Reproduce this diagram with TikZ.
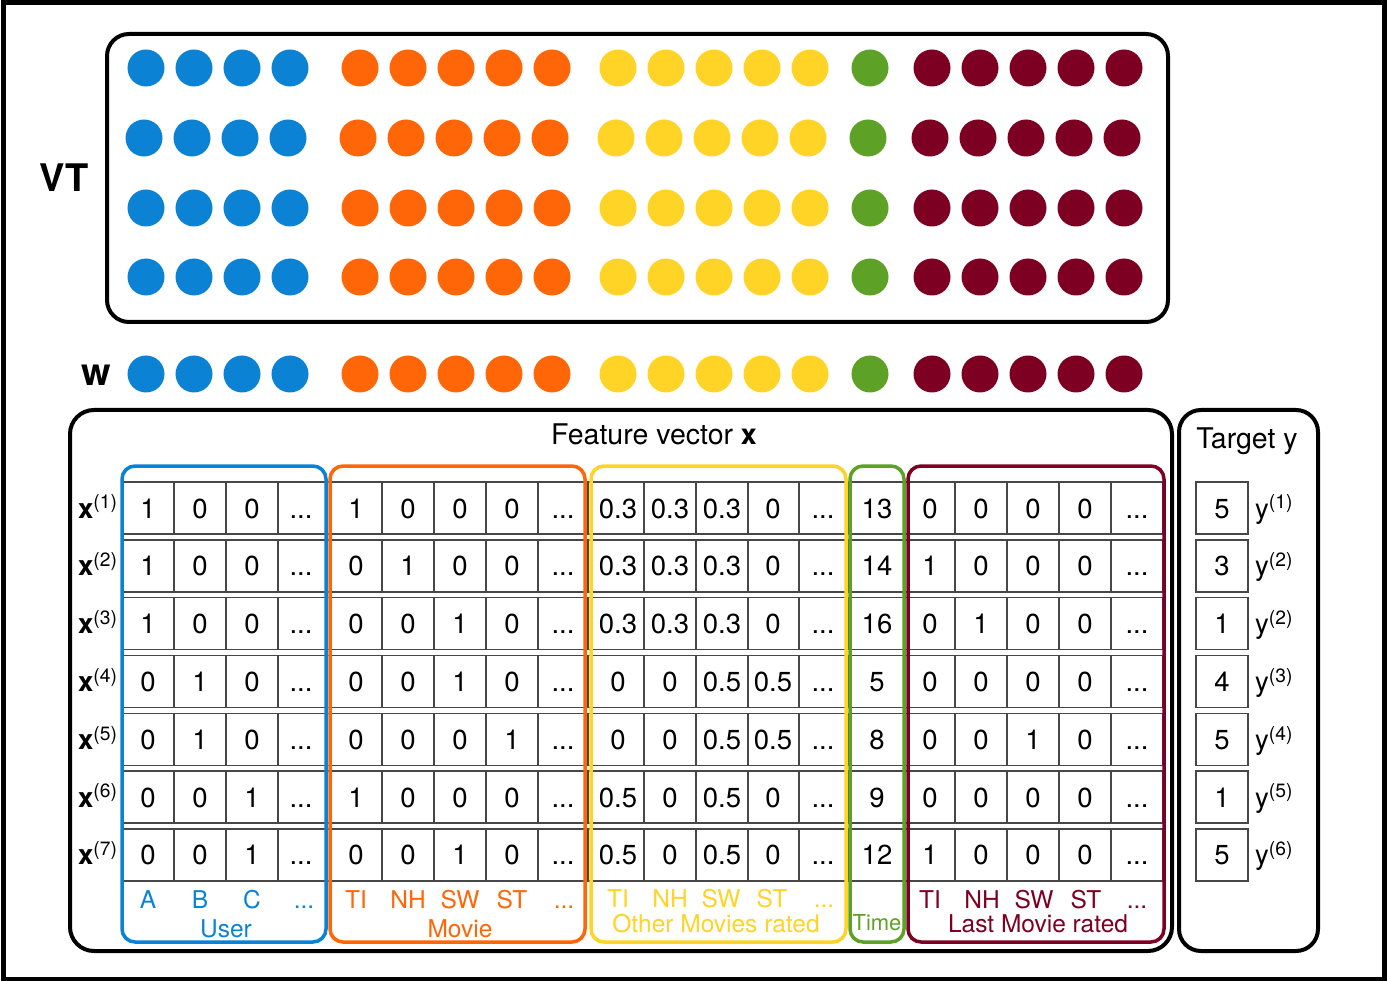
\documentclass[tikz,border=0pt]{standalone}
\usepackage{fontspec}
\setmainfont{TeX Gyre Heros}
\definecolor{cblue}{RGB}{11,130,212}
\definecolor{corange}{RGB}{255,102,8}
\definecolor{cyellow}{RGB}{255,212,38}
\definecolor{cgreen}{RGB}{93,162,38}
\definecolor{cred}{RGB}{125,0,34}
\def\D{...}
\newcommand\dotrow[3]{%
  \foreach \xx [count=\i] in {146,194,242,290} \node[dot,fill=cblue] (#1-b\i) at (\xx+#3,#2) {};
  \foreach \xx [count=\i] in {360,408,456,504,552} \node[dot,fill=corange] (#1-o\i) at (\xx+#3,#2) {};
  \foreach \xx [count=\i] in {618,666,714,762,810} \node[dot,fill=cyellow] (#1-y\i) at (\xx+#3,#2) {};
  \node[dot,fill=cgreen] (#1-g1) at (870+#3,#2) {};
  \foreach \xx [count=\i] in {932,980,1028,1076,1124} \node[dot,fill=cred] (#1-r\i) at (\xx+#3,#2) {};
}
\newcommand\cellrow[3]{% #1 row index, #2 values, #3 target value
  \pgfmathsetmacro\yt{482+57.8*(#1-1)}
  \draw[cellline] (123,\yt) rectangle (1163,\yt+52);
  \foreach \xx in {174,226,278,327,382,434,486,538,588,644,696,748,799,848,905,955,1007,1059,1111}
    \draw[cellline] (\xx,\yt) -- (\xx,\yt+52);
  \foreach \v [count=\c] in {#2} {
    \pgfmathsetmacro\cx{{148,200,252,301,356,408,460,512,563,618,670,722,773,823,877,930,981,1033,1085,1137}[\c-1]}
    \node[celltxt] (c-#1-\c) at (\cx,\yt+36) {\v};
  }
  \draw[cellline] (1196,\yt) rectangle (1248,\yt+52);
  \node[celltxt] (t-#1) at (1222,\yt+36) {#3};
  \node[celltxt,anchor=base west] (xl-#1) at (78,\yt+36) {\textbf{x}\textsuperscript{(#1)}};
}
\begin{document}
\begin{tikzpicture}[x=1pt,y=-1pt,
  dot/.style={circle,inner sep=0pt,minimum size=37pt,draw=none},
  cellline/.style={draw=black!72,line width=1.4pt},
  grp/.style={rounded corners=13pt,line width=3.5pt},
  bigbox/.style={draw=black,line width=4pt,rounded corners=22pt},
  celltxt/.style={anchor=base,inner sep=0pt,font=\fontsize{27.5}{32}\selectfont},
  lbl/.style={anchor=base,inner sep=0pt,font=\fontsize{24.5}{29}\selectfont},
  head/.style={anchor=base,inner sep=0pt,font=\fontsize{28.5}{33}\selectfont},
  big/.style={anchor=base,inner sep=0pt,font=\fontsize{38}{44}\selectfont\bfseries}]
\useasboundingbox (0,0) rectangle (1387,981);
\fill[white] (0,0) rectangle (1387,981);
% outer frame
\draw[line width=5pt] (3,3) rectangle (1384.5,979);
% VT box
\draw[bigbox] (107,34) rectangle (1168,322);
\node[big] (vt) at (64,192) {VT};
\dotrow{v1}{68}{0}
\dotrow{v2}{138}{-2}
\dotrow{v3}{208}{0}
\dotrow{v4}{277}{0}
% w row
\node[big] (w) at (96,386) {w};
\dotrow{w}{374}{0}
% feature and target boxes
\draw[bigbox,rounded corners=24pt] (70,410) rectangle (1172,951);
\draw[bigbox] (1179,410) rectangle (1318,951);
\node[head] (fv) at (654,445) {Feature vector \textbf{x}};
\node[head] (ty) at (1247,448) {Target y};
% rows
\cellrow{1}{1,0,0,\D,1,0,0,0,\D,0.3,0.3,0.3,0,\D,13,0,0,0,0,\D}{5}
\cellrow{2}{1,0,0,\D,0,1,0,0,\D,0.3,0.3,0.3,0,\D,14,1,0,0,0,\D}{3}
\cellrow{3}{1,0,0,\D,0,0,1,0,\D,0.3,0.3,0.3,0,\D,16,0,1,0,0,\D}{1}
\cellrow{4}{0,1,0,\D,0,0,1,0,\D,0,0,0.5,0.5,\D,5,0,0,0,0,\D}{4}
\cellrow{5}{0,1,0,\D,0,0,0,1,\D,0,0,0.5,0.5,\D,8,0,0,1,0,\D}{5}
\cellrow{6}{0,0,1,\D,1,0,0,0,\D,0.5,0,0.5,0,\D,9,0,0,0,0,\D}{1}
\cellrow{7}{0,0,1,\D,0,0,1,0,\D,0.5,0,0.5,0,\D,12,1,0,0,0,\D}{5}
% target labels
\foreach \s [count=\r] in {1,2,2,3,4,5,6} {
  \pgfmathsetmacro\yt{482+57.8*(\r-1)}
  \node[celltxt,anchor=base west] (yl-\r) at (1255,\yt+36) {y\textsuperscript{(\s)}};
}
% group boxes
\draw[grp,draw=cblue] (122,466) rectangle (326,942);
\draw[grp,draw=corange] (330,466) rectangle (585,942);
\draw[grp,draw=cyellow] (591,466) rectangle (846,942);
\draw[grp,draw=cgreen] (850,466) rectangle (904,942);
\draw[grp,draw=cred] (908,466) rectangle (1164,942);
% bottom labels
\foreach \t/\xx [count=\i] in {A/148,B/200,C/252,\D/304}
  \node[lbl,text=cblue] (lu-\i) at (\xx,908) {\t};
\node[lbl,text=cblue] (user) at (226,937) {User};
\foreach \t/\xx [count=\i] in {TI/356,NH/408,SW/460,ST/512,\D/564}
  \node[lbl,text=corange] (lm-\i) at (\xx,908) {\t};
\node[lbl,text=corange] (movie) at (460,937) {Movie};
\foreach \t/\xx [count=\i] in {TI/618,NH/670,SW/721,ST/772,\D/824}
  \node[lbl,text=cyellow] (lo-\i) at (\xx,907) {\t};
\node[lbl,text=cyellow] (other) at (716,932) {Other Movies rated};
\node[lbl,text=cgreen,font=\fontsize{22}{26}\selectfont] (time) at (877,930) {Time};
\foreach \t/\xx [count=\i] in {TI/930,NH/982,SW/1034,ST/1086,\D/1137}
  \node[lbl,text=cred] (ll-\i) at (\xx,908) {\t};
\node[lbl,text=cred] (last) at (1038,932) {Last Movie rated};
\end{tikzpicture}
\end{document}
